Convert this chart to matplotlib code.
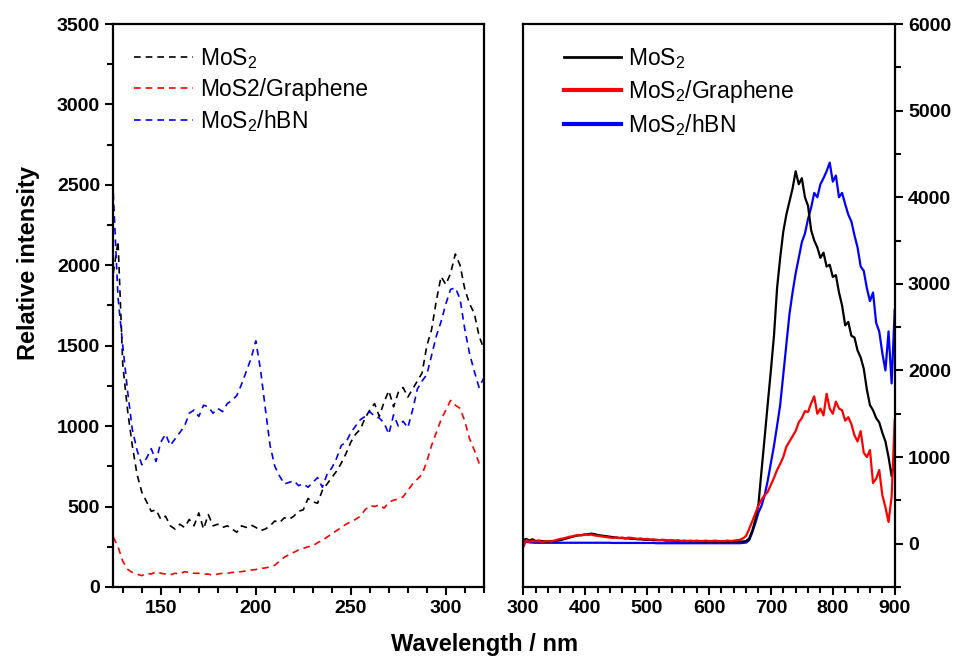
import numpy as np
import matplotlib.pyplot as plt

plt.rcParams['font.family'] = ['Liberation Sans', 'DejaVu Sans']
plt.rcParams['mathtext.fontset'] = 'custom'
plt.rcParams['mathtext.rm'] = 'Liberation Sans'
plt.rcParams['mathtext.default'] = 'regular'

# left panel: absorbance-like spectra, 125-320 nm every 2.5 nm
wl_left = np.arange(125, 320.1, 2.5)
mos2_left = [1950, 2150, 1380, 1100, 880, 700, 590, 530, 470, 480,
             420, 440, 380, 360, 390, 370, 420, 380, 460, 360,
             450, 380, 390, 370, 380, 360, 340, 380, 370, 385,
             370, 350, 360, 380, 410, 400, 430, 420, 440, 470,
             480, 550, 530, 520, 600, 640, 680, 720, 770, 830,
             900, 950, 980, 1050, 1100, 1140, 1060, 1150, 1220, 1120,
             1210, 1240, 1180, 1230, 1280, 1330, 1500, 1600, 1780, 1930,
             1880, 1950, 2070, 2000, 1850, 1760, 1700, 1560, 1480]
graphene_left = [310, 250, 160, 110, 90, 80, 70, 85, 80, 95,
                 85, 80, 75, 85, 80, 95, 90, 85, 85, 80,
                 80, 72, 80, 85, 85, 90, 92, 95, 100, 105,
                 108, 115, 118, 125, 135, 160, 185, 200, 215, 230,
                 240, 250, 255, 275, 290, 310, 330, 350, 370, 390,
                 405, 420, 440, 480, 505, 500, 510, 490, 525, 540,
                 545, 560, 600, 640, 670, 700, 780, 880, 960, 1040,
                 1100, 1160, 1130, 1110, 1030, 920, 850, 770, 780]
hbn_left = [2450, 1800, 1500, 1220, 980, 850, 760, 800, 860, 780,
            900, 950, 880, 920, 960, 1000, 1080, 1100, 1060, 1130,
            1120, 1080, 1110, 1090, 1140, 1160, 1190, 1260, 1340, 1420,
            1530, 1350, 1110, 880, 750, 690, 640, 650, 660, 630,
            640, 620, 650, 680, 620, 700, 740, 800, 880, 900,
            960, 1000, 1040, 1060, 1090, 1060, 1050, 1020, 950, 1070,
            1000, 1030, 990, 1100, 1230, 1280, 1320, 1440, 1560, 1650,
            1760, 1850, 1860, 1790, 1600, 1450, 1340, 1240, 1300]

# right panel: emission spectra, 300-900 nm every 5 nm
wl_right = np.arange(300, 900.1, 5)
mos2_right = [40, 55, 35, 50, 30, 35, 30, 25, 25, 30,
              30, 35, 40, 50, 60, 70, 80, 90, 95, 100,
              105, 110, 115, 110, 100, 95, 90, 85, 80, 75,
              70, 65, 65, 60, 60, 55, 55, 50, 50, 45,
              45, 45, 40, 40, 40, 40, 35, 35, 35, 30,
              30, 30, 30, 30, 28, 28, 28, 25, 25, 25,
              25, 25, 25, 22, 22, 22, 22, 22, 25, 25,
              25, 25, 30, 60, 150, 280, 460, 850, 1230, 1620,
              2000, 2400, 2950, 3300, 3600, 3800, 3950, 4100, 4300, 4150,
              4220, 4000, 3900, 3620, 3500, 3420, 3300, 3360, 3200, 3220,
              3080, 3100, 2900, 2750, 2520, 2560, 2400, 2380, 2230, 2150,
              2020, 1780, 1600, 1540, 1450, 1400, 1280, 1180, 1000, 780,
              980]
graphene_right = [-40, 40, 20, 35, 25, 30, 20, 25, 30, 25,
                  35, 45, 55, 60, 70, 80, 85, 95, 100, 95,
                  110, 100, 105, 95, 90, 85, 80, 75, 70, 65,
                  75, 65, 70, 60, 70, 65, 60, 55, 60, 50,
                  55, 45, 50, 45, 40, 45, 40, 35, 40, 35,
                  40, 30, 35, 30, 35, 30, 35, 30, 30, 35,
                  30, 30, 35, 30, 30, 30, 35, 30, 35, 40,
                  45, 60, 90, 170, 260, 350, 440, 510, 560, 600,
                  680, 760, 850, 920, 1000, 1120, 1180, 1240, 1300, 1400,
                  1450, 1530, 1520, 1620, 1700, 1500, 1560, 1480, 1730, 1560,
                  1500, 1640, 1560, 1540, 1420, 1460, 1380, 1250, 1180, 1300,
                  1050, 1000, 1080, 700, 750, 850, 560, 420, 250, 540,
                  1430]
hbn_right = [25, 20, 15, 12, 10, 10, 10, 10, 10, 10,
             10, 10, 10, 10, 10, 10, 10, 10, 10, 10,
             10, 10, 10, 10, 10, 10, 10, 10, 10, 8,
             8, 8, 8, 8, 8, 8, 8, 8, 8, 8,
             8, 8, 8, 5, 5, 5, 5, 5, 5, 5,
             5, 5, 5, 5, 5, 5, 5, 5, 5, 5,
             5, 5, 5, 5, 5, 5, 5, 5, 5, 5,
             5, 8, 12, 40, 130, 240, 360, 440, 560, 730,
             930, 1130, 1360, 1600, 1950, 2300, 2650, 2900, 3120, 3300,
             3480, 3580, 3750, 3880, 4050, 4000, 4150, 4220, 4300, 4400,
             4180, 4250, 4000, 4050, 3920, 3800, 3720, 3560, 3420, 3200,
             3150, 2950, 2800, 2900, 2550, 2450, 2200, 2000, 2450, 1850,
             2700]

labels_left = ['MoS$_2$', 'MoS2/Graphene', 'MoS$_2$/hBN']
labels_right = ['MoS$_2$', 'MoS$_2$/Graphene', 'MoS$_2$/hBN']
colors = ['black', 'red', 'blue']

fig = plt.figure(figsize=(9.6, 6.58), dpi=100)
ax1 = fig.add_axes([0.118, 0.108, 0.386, 0.8555])
ax2 = fig.add_axes([0.545, 0.108, 0.387, 0.8555])

for y, lab, c in zip([mos2_left, graphene_left, hbn_left], labels_left, colors):
    ax1.plot(wl_left, y, color=c, lw=1.2, dashes=(4, 3), label=lab)

ax2.plot(wl_right, hbn_right, color='blue', lw=1.6, label=labels_right[2])
ax2.plot(wl_right, mos2_right, color='black', lw=1.6, label=labels_right[0])
ax2.plot(wl_right, graphene_right, color='red', lw=1.6, label=labels_right[1])

ax1.set_xlim(125, 320)
ax1.set_ylim(0, 3500)
ax1.set_xticks([150, 200, 250, 300])
ax1.set_xticks(np.arange(130, 321, 10), minor=True)
ax1.set_yticks(np.arange(0, 3501, 500))
ax1.set_yticks(np.arange(0, 3501, 250), minor=True)

ax2.set_xlim(300, 900)
ax2.set_ylim(-500, 6000)
ax2.set_xticks(np.arange(300, 901, 100))
ax2.set_xticks(np.arange(300, 901, 20), minor=True)
ax2.set_yticks(np.arange(0, 6001, 1000))
ax2.set_yticks(np.arange(-500, 6001, 500), minor=True)
ax2.yaxis.tick_right()

for ax in (ax1, ax2):
    for s in ax.spines.values():
        s.set_linewidth(1.6)
    ax.tick_params(which='major', direction='out', length=6, width=1.5)
    ax.tick_params(which='minor', direction='out', length=4, width=1.5)
    for t in ax.get_xticklabels() + ax.get_yticklabels():
        t.set_fontsize(14)
        t.set_fontweight('bold')

h, l = ax1.get_legend_handles_labels()
ax1.legend(h, l, loc='upper left', bbox_to_anchor=(0.0, 0.997), frameon=False,
           fontsize=16.5, handlelength=2.6, handletextpad=0.3, labelspacing=0.3)
h, l = ax2.get_legend_handles_labels()
order = [1, 2, 0]
leg = ax2.legend([h[i] for i in order], [l[i] for i in order], loc='upper left',
                 bbox_to_anchor=(0.053, 0.997), frameon=False, fontsize=16.5,
                 handlelength=2.5, handletextpad=0.3, labelspacing=0.3)
for line, w in zip(leg.get_lines(), [2.0, 3.0, 3.0]):
    line.set_linewidth(w)

fig.text(0.505, 0.02, 'Wavelength / nm', ha='center', va='center',
         fontsize=17, fontweight='bold')
fig.text(0.03, 0.6, 'Relative intensity', ha='center', va='center',
         rotation=90, fontsize=17, fontweight='bold')

fig.savefig('out.png', dpi=100)
